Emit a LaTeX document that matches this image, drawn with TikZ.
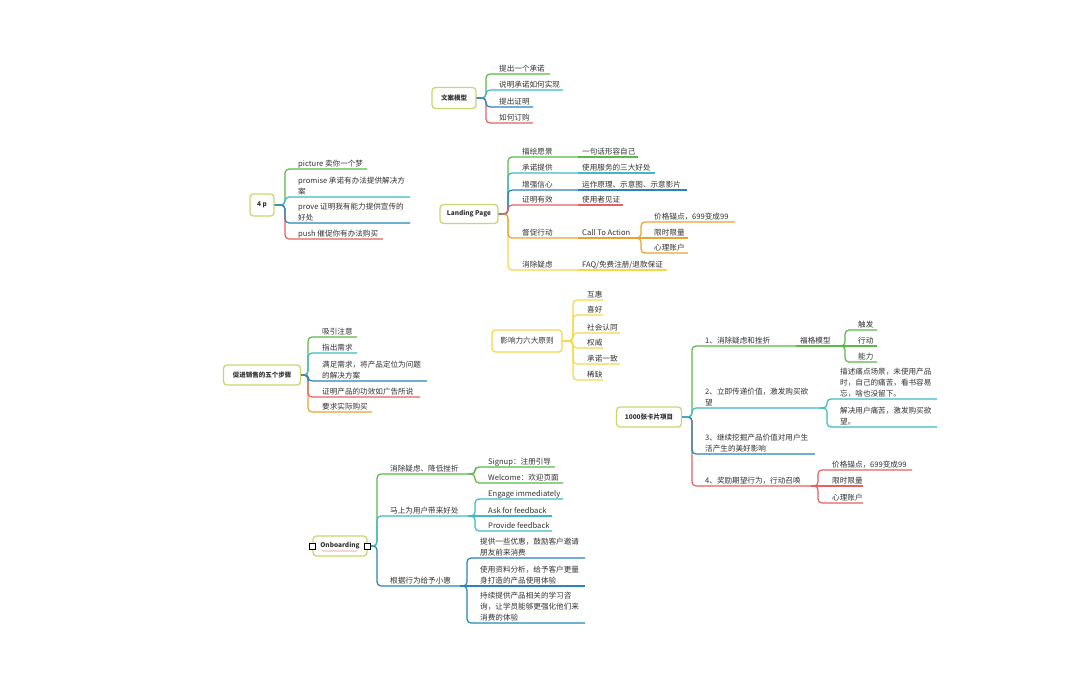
\documentclass[tikz,border=0pt]{standalone}
\usepackage{fontspec}
\newfontfamily\cjk{Noto Sans CJK SC}
\usetikzlibrary{decorations.pathmorphing}
\definecolor{cgreen}{RGB}{92,184,72}
\definecolor{cteal}{RGB}{62,186,196}
\definecolor{cblue}{RGB}{42,132,182}
\definecolor{cred}{RGB}{228,98,98}
\definecolor{corange}{RGB}{236,162,48}
\definecolor{cyellow}{RGB}{246,216,72}
\definecolor{crootb}{RGB}{196,218,112}
\definecolor{ctext}{RGB}{50,50,50}
\tikzset{
 rootbox/.style={draw=crootb, line width=1.3pt, rounded corners=3.5pt, fill=white, inner sep=0pt, text=ctext, font=\cjk\bfseries\fontsize{6.5}{8}\selectfont},
 lbl/.style={anchor=south west, inner sep=0pt, align=left, text depth=1.4pt, text=ctext, font=\cjk\fontsize{7.6}{11}\selectfont},
 br/.style={line width=1.2pt, rounded corners=4pt},
 handle/.style={draw=black, fill=white, line width=0.6pt, minimum size=6pt, inner sep=0pt},
 squiggle/.style={cred!80, line width=0.35pt, decorate, decoration={snake, amplitude=0.4pt, segment length=1.8pt}},
}
% #1 name, #2 colour, #3 parent anchor, #4 spine x, #5 line y, #6 text x, #7 end x, #8 text
\newcommand\mmtopic[8]{%
  \node[lbl] (#1) at (#6,#5-1) {#8};
  \coordinate (#1e) at (#7,#5);
  \draw[br,#2] (#1e) -- (#4,#5) |- (#3);
}
% #1 name, #2 colour, #3 parent end, #4 line y, #5 text x, #6 end x, #7 text
\newcommand\mminline[7]{%
  \node[lbl] (#1) at (#5,#4-1) {#7};
  \coordinate (#1e) at (#6,#4);
  \draw[br,#2] (#1e) -- (#3);
}
\begin{document}
\begin{tikzpicture}[x=1pt,y=-1pt]
\useasboundingbox[fill=white] (0,0) rectangle (1080,675);

% ---------- 文案模型
\node[rootbox, minimum width=44pt, minimum height=21pt] (wa) at (454,98) {文案模型};
\mmtopic{wa1}{cgreen}{wa.east}{486}{74}{499}{550}{提出一个承诺}
\mmtopic{wa4}{cred}{wa.east}{486}{123}{499}{533}{如何订购}
\mmtopic{wa2}{cteal}{wa.east}{486}{90}{499}{563}{说明承诺如何实现}
\mmtopic{wa3}{cblue}{wa.east}{486}{107}{499}{533}{提出证明}

% ---------- 4 p
\node[rootbox, minimum width=24pt, minimum height=22pt] (fp) at (262,205) {4 p};
\mmtopic{p1}{cgreen}{fp.east}{285}{169}{298}{367}{picture 卖你一个梦}
\mmtopic{p4}{cred}{fp.east}{285}{239}{298}{383}{push 催促你有办法购买}
\mmtopic{p2}{cteal}{fp.east}{285}{197}{298}{410}{promise 承诺有办法提供解决方\\案}
\mmtopic{p3}{cblue}{fp.east}{285}{223}{298}{410}{prove 证明我有能力提供宣传的\\好处}

% ---------- Landing Page
\node[rootbox, minimum width=58pt, minimum height=19pt] (lp) at (469,214) {Landing Page};
\mmtopic{lp1}{cgreen}{lp.east}{508}{157}{522}{578}{描绘愿景}
\mminline{lp1a}{cgreen}{lp1e}{157}{582}{638}{一句话形容自己}
\mmtopic{lp6}{cyellow}{lp.east}{508}{270}{522}{578}{消除疑虑}
\mminline{lp6a}{cyellow}{lp6e}{270}{582}{667}{FAQ/免费注册/退款保证}
\mmtopic{lp2}{cteal}{lp.east}{508}{173}{522}{578}{承诺提供}
\mminline{lp2a}{cteal}{lp2e}{173}{582}{655}{使用服务的三大好处}
\mmtopic{lp5}{corange}{lp.east}{508}{238}{522}{578}{督促行动}
\mminline{lp5a}{corange}{lp5e}{238}{582}{633}{Call To Action}
\mmtopic{lp5a1}{corange}{lp5ae}{641}{222}{654}{735}{价格锚点，699变成99}
\mminline{lp5a2}{corange}{lp5ae}{238}{654}{688}{限时限量}
\mmtopic{lp5a3}{corange}{lp5ae}{641}{253}{654}{688}{心理账户}
\mmtopic{lp3}{cblue}{lp.east}{508}{190}{522}{578}{增强信心}
\mminline{lp3a}{cblue}{lp3e}{190}{582}{687}{运作原理、示意图、示意影片}
\mmtopic{lp4}{cred}{lp.east}{508}{205}{522}{578}{证明有效}
\mminline{lp4a}{cred}{lp4e}{205}{582}{623}{使用者见证}

% ---------- 影响力六大原则
\node[rootbox, draw=cyellow, font=\cjk\fontsize{7.6}{9}\selectfont, minimum width=70pt, minimum height=22pt] (yx) at (527,341) {影响力六大原则};
\mmtopic{y1}{cyellow}{yx.east}{573}{300}{587}{603}{互惠}
\mmtopic{y6}{cyellow}{yx.east}{573}{380}{587}{603}{稀缺}
\mmtopic{y2}{cyellow}{yx.east}{573}{315}{587}{603}{喜好}
\mmtopic{y5}{cyellow}{yx.east}{573}{364}{587}{620}{承诺一致}
\mmtopic{y3}{cyellow}{yx.east}{573}{333}{587}{620}{社会认同}
\mmtopic{y4}{cyellow}{yx.east}{573}{348}{587}{603}{权威}

% ---------- 促进销售的五个步骤
\node[rootbox, minimum width=77pt, minimum height=20pt] (cx) at (262,375) {促进销售的五个步骤};
\mmtopic{c1}{cgreen}{cx.east}{308}{337}{322}{357}{吸引注意}
\mmtopic{c5}{corange}{cx.east}{308}{412}{322}{372}{要求实际购买}
\mmtopic{c2}{cteal}{cx.east}{308}{353}{322}{357}{指出需求}
\mmtopic{c4}{cred}{cx.east}{308}{397}{322}{420}{证明产品的功效如广告所说}
\mmtopic{c3}{cblue}{cx.east}{308}{381}{322}{427}{满足需求，将产品定位为问题\\的解决方案}

% ---------- 1000张卡片项目
\node[rootbox, minimum width=65pt, minimum height=20pt] (kp) at (649,417) {1000张卡片项目};
\mmtopic{k1}{cgreen}{kp.east}{692}{346}{705}{796}{1、消除疑虑和挫折}
\mminline{k1a}{cgreen}{k1e}{346}{800}{838}{福格模型}
\mmtopic{k1a1}{cgreen}{k1ae}{845}{330}{858}{877}{触发}
\mminline{k1a2}{cgreen}{k1ae}{346}{858}{877}{行动}
\mmtopic{k1a3}{cgreen}{k1ae}{845}{362}{858}{877}{能力}
\mmtopic{k4}{cred}{kp.east}{692}{486}{705}{811}{4、奖励期望行为，行动召唤}
\mmtopic{k4a}{cred}{k4e}{818}{470}{832}{912}{价格锚点，699变成99}
\mminline{k4b}{cred}{k4e}{486}{832}{863}{限时限量}
\mmtopic{k4c}{cred}{k4e}{818}{503}{832}{863}{心理账户}
\mmtopic{k3}{cblue}{kp.east}{692}{454}{705}{815}{3、继续挖掘产品价值对用户生\\活产生的美好影响}
\mmtopic{k2}{cteal}{kp.east}{692}{408}{705}{820}{2、立即传递价值，激发购买欲\\望}
\mmtopic{k2a}{cteal}{k2e}{827}{399}{840}{937}{描述痛点场景，未使用产品\\时，自己的痛苦，看书容易\\忘，啥也没留下。}
\mmtopic{k2b}{cteal}{k2e}{827}{427}{840}{937}{解决用户痛苦，激发购买欲\\望。}

% ---------- Onboarding
\node[rootbox, minimum width=54pt, minimum height=20pt] (ob) at (340,546) {Onboarding};
\mmtopic{o1}{cgreen}{ob.east}{377}{474}{390}{468}{消除疑虑、降低挫折}
\mmtopic{o1a}{cgreen}{o1e}{475}{467}{488}{555}{Signup：注册引导}
\mmtopic{o1b}{cgreen}{o1e}{475}{483}{488}{563}{Welcome：欢迎页面}
\mmtopic{o3}{cblue}{ob.east}{377}{586}{390}{460}{根据行为给予小惠}
\mmtopic{o3a}{cblue}{o3e}{467}{558}{480}{585}{提供一些优惠，鼓励客户邀请\\朋友前来消费}
\mminline{o3b}{cblue}{o3e}{586}{480}{585}{使用资料分析，给予客户更量\\身打造的产品使用体验}
\mmtopic{o3c}{cblue}{o3e}{467}{623}{480}{585}{持续提供产品相关的学习咨\\询，让学员能够更强化他们来\\消费的体验}
\mmtopic{o2}{cteal}{ob.east}{377}{516}{390}{468}{马上为用户带来好处}
\mmtopic{o2a}{cteal}{o2e}{475}{499}{488}{563}{Engage immediately}
\mminline{o2b}{cteal}{o2e}{516}{488}{552}{Ask for feedback}
\mmtopic{o2c}{cteal}{o2e}{475}{531}{488}{552}{Provide feedback}
\draw[squiggle] (322,551) -- (358,551);
\node[handle] (obl) at (ob.west) {};
\node[handle] (obr) at (ob.east) {};
\end{tikzpicture}
\end{document}
